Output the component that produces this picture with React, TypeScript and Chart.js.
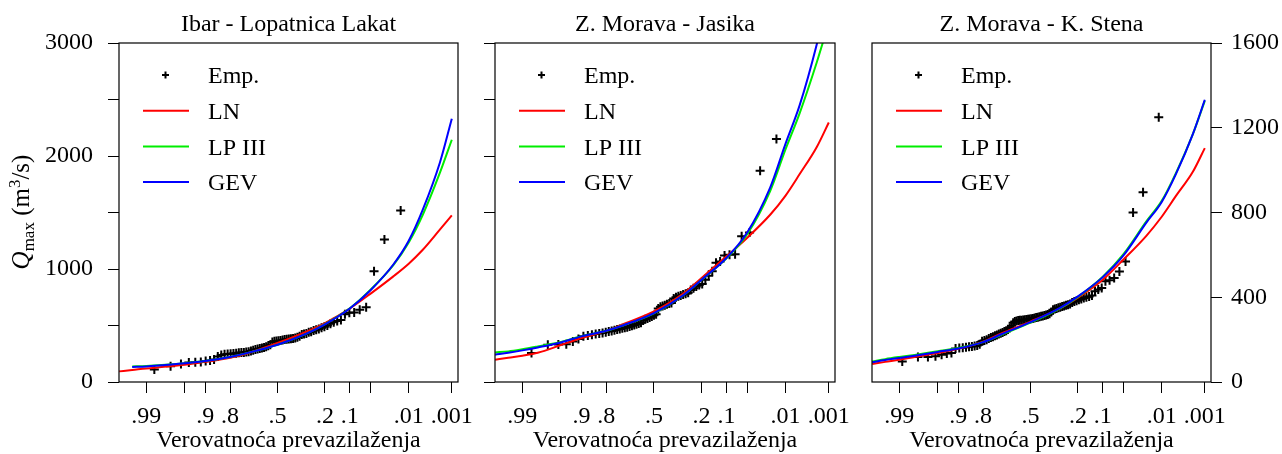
import React, { useEffect, useRef } from "react";
import { Chart, registerables } from "chart.js";

Chart.register(...registerables);

const FAM = "'Liberation Serif', 'Times New Roman', serif";
const FS = 24;

// ---------- axis definitions ----------
const xTickProbs = [0.99, 0.95, 0.9, 0.8, 0.5, 0.2, 0.1, 0.05, 0.01, 0.001];
const xTickLabels = [".99", "", ".9", ".8", ".5", ".2", ".1", "", ".01", ".001"];
const titles = ["Ibar - Lopatnica Lakat", "Z. Morava - Jasika", "Z. Morava - K. Stena"];
const legendLabels = ["Emp.", "LN", "LP III", "GEV"];

// exceedance probabilities at which the fitted curves are read
const curveProbs = [0.9975, 0.995, 0.99, 0.98, 0.95, 0.9, 0.8, 0.7, 0.5, 0.3, 0.2, 0.1, 0.05, 0.02, 0.01, 0.005, 0.002, 0.001];

// ---------- Ibar - Lopatnica Lakat ----------
const ibarEmpP = [
  0.9855, 0.9710, 0.9565, 0.9420, 0.9275, 0.9130, 0.8986, 0.8841, 0.8696, 0.8551,
  0.8406, 0.8261, 0.8116, 0.7971, 0.7826, 0.7681, 0.7536, 0.7391, 0.7246, 0.7101,
  0.6957, 0.6812, 0.6667, 0.6522, 0.6377, 0.6232, 0.6087, 0.5942, 0.5797, 0.5652,
  0.5507, 0.5362, 0.5217, 0.5072, 0.4928, 0.4783, 0.4638, 0.4493, 0.4348, 0.4203,
  0.4058, 0.3913, 0.3768, 0.3623, 0.3478, 0.3333, 0.3188, 0.3043, 0.2899, 0.2754,
  0.2609, 0.2464, 0.2319, 0.2174, 0.2029, 0.1884, 0.1739, 0.1594, 0.1449, 0.1304,
  0.1159, 0.1014, 0.0870, 0.0725, 0.0580, 0.0435, 0.0290, 0.0145,
];
const ibarEmpQ = [
  110, 140, 160, 172, 175, 178, 185, 190, 200, 225,
  240, 245, 248, 250, 252, 255, 258, 260, 262, 265,
  268, 275, 282, 288, 292, 296, 300, 305, 312, 320,
  330, 355, 360, 362, 365, 368, 372, 376, 378, 380,
  383, 386, 390, 395, 405, 420, 425, 430, 440, 445,
  455, 462, 470, 480, 490, 500, 515, 528, 540, 548,
  600, 612, 615, 640, 662, 980, 1260, 1518,
];
const ibarLN = [94, 106, 120, 132, 152, 178, 215, 255, 345, 448, 522, 650, 780, 935, 1047, 1170, 1348, 1474];
const ibarLP3 = [null, 138, 142, 150, 167, 186, 222, 258, 330, 430, 512, 652, 815, 1035, 1235, 1480, 1850, 2144];
const ibarGEV = [null, 133, 138, 148, 165, 185, 222, 258, 330, 430, 510, 650, 810, 1040, 1250, 1525, 1940, 2330];

// ---------- Z. Morava - Jasika ----------
const jasikaEmpP = [
  0.9848, 0.9697, 0.9545, 0.9394, 0.9242, 0.9091, 0.8939, 0.8788, 0.8636, 0.8485,
  0.8333, 0.8182, 0.8030, 0.7879, 0.7727, 0.7576, 0.7424, 0.7273, 0.7121, 0.6970,
  0.6818, 0.6667, 0.6515, 0.6364, 0.6212, 0.6061, 0.5909, 0.5758, 0.5606, 0.5455,
  0.5303, 0.5152, 0.5000, 0.4848, 0.4697, 0.4545, 0.4394, 0.4242, 0.4091, 0.3939,
  0.3788, 0.3636, 0.3485, 0.3333, 0.3182, 0.3030, 0.2879, 0.2727, 0.2576, 0.2424,
  0.2273, 0.2121, 0.1970, 0.1818, 0.1667, 0.1515, 0.1364, 0.1212, 0.1061, 0.0909,
  0.0758, 0.0606, 0.0455, 0.0303, 0.0152,
];
const jasikaEmpQ = [
  257, 330, 332, 335, 358, 380, 405, 412, 418, 424,
  430, 434, 440, 446, 452, 458, 464, 470, 475, 480,
  485, 492, 498, 505, 510, 518, 525, 545, 555, 562,
  570, 580, 590, 600, 650, 665, 672, 680, 688, 695,
  700, 740, 750, 758, 765, 775, 782, 790, 815, 830,
  845, 858, 868, 905, 940, 979, 1056, 1067, 1120, 1127,
  1130, 1289, 1324, 1870, 2150,
];
const jasikaLN = [197, 215, 233, 259, 327, 389, 452, 516, 625, 785, 920, 1112, 1275, 1480, 1650, 1840, 2080, 2297];
const jasikaLP3 = [262, 271, 290, 315, 355, 406, 454, 505, 608, 770, 905, 1095, 1305, 1690, 2060, 2380, 2830, 3180];
const jasikaGEV = [242, 259, 280, 306, 350, 404, 454, 505, 610, 770, 905, 1097, 1320, 1720, 2110, 2450, 2990, 3450];

// ---------- Z. Morava - K. Stena ----------
const stenaEmpP = [
  0.9885, 0.9770, 0.9655, 0.9540, 0.9425, 0.9310, 0.9195, 0.9080, 0.8966, 0.8851,
  0.8736, 0.8621, 0.8506, 0.8391, 0.8276, 0.8161, 0.8046, 0.7931, 0.7816, 0.7701,
  0.7586, 0.7471, 0.7356, 0.7241, 0.7126, 0.7011, 0.6897, 0.6782, 0.6667, 0.6552,
  0.6437, 0.6322, 0.6207, 0.6092, 0.5977, 0.5862, 0.5747, 0.5632, 0.5517, 0.5402,
  0.5287, 0.5172, 0.5057, 0.4943, 0.4828, 0.4713, 0.4598, 0.4483, 0.4368, 0.4253,
  0.4138, 0.4023, 0.3908, 0.3793, 0.3678, 0.3563, 0.3448, 0.3333, 0.3218, 0.3103,
  0.2989, 0.2874, 0.2759, 0.2644, 0.2529, 0.2414, 0.2299, 0.2184, 0.2069, 0.1954,
  0.1839, 0.1724, 0.1609, 0.1494, 0.1379, 0.1264, 0.1149, 0.1034, 0.0920, 0.0805,
  0.0690, 0.0575, 0.0460, 0.0345, 0.0230, 0.0115,
];
const stenaEmpQ = [
  97, 118, 118, 121, 129, 134, 137, 158, 160, 162,
  164, 166, 168, 170, 172, 178, 192, 196, 200, 205,
  210, 214, 218, 222, 226, 230, 234, 238, 242, 248,
  255, 265, 280, 286, 288, 290, 291, 292, 293, 294,
  295, 296, 297, 298, 300, 302, 304, 306, 308, 310,
  312, 314, 316, 318, 322, 330, 341, 344, 347, 350,
  353, 356, 359, 362, 365, 368, 375, 380, 384, 388,
  392, 396, 400, 404, 408, 428, 436, 444, 475, 480,
  491, 522, 569, 800, 895, 1249,
];
const stenaLN = [85, 95, 105, 118, 137, 157, 190, 228, 285, 348, 398, 483, 577, 690, 780, 877, 992, 1104];
const stenaLP3 = [97, 108, 118, 128, 145, 160, 188, 222, 280, 348, 402, 497, 602, 758, 855, 985, 1170, 1327];
const stenaGEV = [93, 104, 113, 124, 142, 158, 188, 224, 283, 350, 404, 495, 596, 752, 850, 980, 1170, 1332];

const leftTicksLabelled = [0, 1000, 2000, 3000];
const rightTicksLabelled = [0, 400, 800, 1200, 1600];

const LINE_COLORS = ["#ff0000", "#00ee00", "#0000ff"];

// inverse standard normal CDF (probability-paper axis transform)
function invNorm(p: number): number {
  const a = [-3.969683028665376e1, 2.209460984245205e2, -2.759285104469687e2, 1.38357751867269e2, -3.066479806614716e1, 2.506628277459239];
  const b = [-5.447609879822406e1, 1.615858368580409e2, -1.556989798598866e2, 6.680131188771972e1, -1.328068155288572e1];
  const c = [-7.784894002430293e-3, -3.223964580411365e-1, -2.400758277161838, -2.549732539343734, 4.374664141464968, 2.938163982698783];
  const d = [7.784695709041462e-3, 3.224671290700398e-1, 2.445134137142996, 3.754408661907416];
  const pl = 0.02425;
  if (p < pl) {
    const q = Math.sqrt(-2 * Math.log(p));
    return (((((c[0] * q + c[1]) * q + c[2]) * q + c[3]) * q + c[4]) * q + c[5]) / ((((d[0] * q + d[1]) * q + d[2]) * q + d[3]) * q + 1);
  }
  if (p <= 1 - pl) {
    const q = p - 0.5;
    const r = q * q;
    return ((((((a[0] * r + a[1]) * r + a[2]) * r + a[3]) * r + a[4]) * r + a[5]) * q) / (((((b[0] * r + b[1]) * r + b[2]) * r + b[3]) * r + b[4]) * r + 1);
  }
  const q = Math.sqrt(-2 * Math.log(1 - p));
  return -(((((c[0] * q + c[1]) * q + c[2]) * q + c[3]) * q + c[4]) * q + c[5]) / ((((d[0] * q + d[1]) * q + d[2]) * q + d[3]) * q + 1);
}
const zOf = (exceed: number) => invNorm(1 - exceed);

const X_MIN = -2.81;
const X_MAX = 3.2;

const decorPlugin = {
  id: "decor",
  afterDraw(chart: any) {
    const opts = chart.options.plugins.decor || {};
    const { ctx, chartArea } = chart;
    const { left, top, right, bottom } = chartArea;
    ctx.save();
    // box
    ctx.strokeStyle = "#000";
    ctx.lineWidth = 1.2;
    ctx.strokeRect(left, top, right - left, bottom - top);
    // legend
    ctx.font = `${FS}px ${FAM}`;
    ctx.textBaseline = "middle";
    ctx.textAlign = "left";
    ctx.fillStyle = "#000";
    legendLabels.forEach((lab, i) => {
      const y = top + 32 + i * 35.7;
      if (i === 0) {
        ctx.strokeStyle = "#000";
        ctx.lineWidth = 2;
        const cx = left + 46.5;
        ctx.beginPath();
        ctx.moveTo(cx - 3.5, y);
        ctx.lineTo(cx + 3.5, y);
        ctx.moveTo(cx, y - 3.5);
        ctx.lineTo(cx, y + 3.5);
        ctx.stroke();
      } else {
        ctx.strokeStyle = LINE_COLORS[i - 1];
        ctx.lineWidth = 2;
        ctx.beginPath();
        ctx.moveTo(left + 24, y);
        ctx.lineTo(left + 70, y);
        ctx.stroke();
      }
      ctx.fillText(lab, left + 89, y + 2);
    });
    // y axis title (left panel only)
    if (opts.yTitle) {
      ctx.translate(opts.yTitle.x, opts.yTitle.y);
      ctx.rotate(-Math.PI / 2);
      ctx.textBaseline = "alphabetic";
      const big = 25;
      const small = 17;
      const parts = [
        { t: "Q", f: `italic ${big}px ${FAM}`, dy: 0 },
        { t: "max", f: `${small}px ${FAM}`, dy: 5 },
        { t: " (m", f: `${big}px ${FAM}`, dy: 0 },
        { t: "3", f: `${small}px ${FAM}`, dy: -9 },
        { t: "/s)", f: `${big}px ${FAM}`, dy: 0 },
      ];
      let total = 0;
      const widths = parts.map((p) => {
        ctx.font = p.f;
        const w = ctx.measureText(p.t).width;
        total += w;
        return w;
      });
      let x = -total / 2;
      parts.forEach((p, i) => {
        ctx.font = p.f;
        ctx.fillText(p.t, x, p.dy);
        x += widths[i];
      });
    }
    ctx.restore();
  },
};

type PanelCfg = {
  title: string;
  empP: number[];
  empQ: number[];
  ln: (number | null)[];
  lp3: (number | null)[];
  gev: (number | null)[];
  width: number;
  padLeft: number;
  padRight: number;
  yPos: "left" | "right";
  yWidth: number;
  yMax: number;
  yStep: number;
  yLabels: number[];
  yPadding: number;
  yTitle?: { x: number; y: number };
};

function noPad(s: any) {
  s.paddingLeft = 0;
  s.paddingRight = 0;
  s.paddingTop = 0;
  s.paddingBottom = 0;
}

function buildConfig(p: PanelCfg): any {
  const curve = (vals: (number | null)[]) => curveProbs.map((pr, i) => ({ x: zOf(pr), y: vals[i] }));
  const lineDs = (label: string, vals: (number | null)[], color: string, order: number) => ({
    label,
    data: curve(vals),
    borderColor: color,
    backgroundColor: color,
    borderWidth: 2,
    pointRadius: 0,
    fill: false,
    cubicInterpolationMode: "monotone",
    order,
  });
  const font = { family: FAM, size: FS, lineHeight: 1 };
  return {
    type: "line",
    data: {
      datasets: [
        {
          label: "Emp.",
          data: p.empP.map((pr, i) => ({ x: zOf(pr), y: p.empQ[i] })),
          showLine: false,
          pointStyle: "cross",
          pointRadius: 4.5,
          pointBorderWidth: 2,
          borderColor: "#000",
          backgroundColor: "#000",
          order: 3,
        },
        lineDs("LN", p.ln, LINE_COLORS[0], 2),
        lineDs("LP III", p.lp3, LINE_COLORS[1], 1),
        lineDs("GEV", p.gev, LINE_COLORS[2], 0),
      ],
    },
    options: {
      animation: false,
      responsive: false,
      maintainAspectRatio: false,
      events: [],
      layout: { padding: { left: p.padLeft, right: p.padRight, top: 0, bottom: 0 } },
      plugins: {
        legend: { display: false },
        tooltip: { enabled: false },
        title: { display: false },
        decor: { yTitle: p.yTitle },
      },
      scales: {
        x: {
          type: "linear",
          position: "bottom",
          min: X_MIN,
          max: X_MAX,
          afterBuildTicks: (s: any) => {
            s.ticks = xTickProbs.map((pr) => ({ value: zOf(pr) }));
          },
          afterFit: (s: any) => {
            s.height = 72;
            noPad(s);
          },
          ticks: {
            autoSkip: false,
            maxRotation: 0,
            minRotation: 0,
            padding: 12,
            color: "#000",
            font,
            callback: (_v: any, i: number) => xTickLabels[i],
          },
          grid: { drawOnChartArea: false, drawTicks: true, tickLength: 11, color: "#000", lineWidth: 1 },
          border: { display: false },
          title: {
            display: true,
            text: "Verovatnoća prevazilaženja",
            color: "#000",
            font,
            padding: { top: 0, bottom: 1.5 },
          },
        },
        xTitle: {
          type: "linear",
          position: "top",
          min: X_MIN,
          max: X_MAX,
          afterFit: (s: any) => {
            s.height = 43;
            noPad(s);
          },
          grid: { display: false },
          border: { display: false },
          ticks: { display: false },
          title: { display: true, text: p.title, color: "#000", font, padding: { top: 13, bottom: 0 } },
        },
        y: {
          type: "linear",
          position: p.yPos,
          min: 0,
          max: p.yMax,
          afterFit: (s: any) => {
            s.width = p.yWidth;
            noPad(s);
          },
          ticks: {
            stepSize: p.yStep,
            autoSkip: false,
            padding: p.yPadding,
            color: "#000",
            font,
            callback: (v: number) => (p.yLabels.includes(v) ? String(v) : ""),
          },
          grid: { drawOnChartArea: false, drawTicks: true, tickLength: 11, color: "#000", lineWidth: 1 },
          border: { display: false },
        },
      },
    },
    plugins: [decorPlugin],
  };
}

const panels: { left: number; cfg: PanelCfg }[] = [
  {
    left: 0,
    cfg: {
      title: titles[0],
      empP: ibarEmpP,
      empQ: ibarEmpQ,
      ln: ibarLN,
      lp3: ibarLP3,
      gev: ibarGEV,
      width: 475,
      padLeft: 0,
      padRight: 17,
      yPos: "left",
      yWidth: 119,
      yMax: 3000,
      yStep: 500,
      yLabels: leftTicksLabelled,
      yPadding: 15,
      yTitle: { x: 29, y: 212 },
    },
  },
  {
    left: 475,
    cfg: {
      title: titles[1],
      empP: jasikaEmpP,
      empQ: jasikaEmpQ,
      ln: jasikaLN,
      lp3: jasikaLP3,
      gev: jasikaGEV,
      width: 375,
      padLeft: 0,
      padRight: 15,
      yPos: "left",
      yWidth: 20,
      yMax: 3000,
      yStep: 500,
      yLabels: [],
      yPadding: 15,
    },
  },
  {
    left: 850,
    cfg: {
      title: titles[2],
      empP: stenaEmpP,
      empQ: stenaEmpQ,
      ln: stenaLN,
      lp3: stenaLP3,
      gev: stenaGEV,
      width: 432,
      padLeft: 22,
      padRight: 0,
      yPos: "right",
      yWidth: 71,
      yMax: 1600,
      yStep: 400,
      yLabels: rightTicksLabelled,
      yPadding: 9,
    },
  },
];

function Panel({ left, cfg }: { left: number; cfg: PanelCfg }) {
  const ref = useRef<HTMLCanvasElement | null>(null);
  useEffect(() => {
    if (!ref.current) return;
    const chart = new Chart(ref.current, buildConfig(cfg));
    return () => chart.destroy();
  }, []);
  return (
    <canvas
      ref={ref}
      width={cfg.width}
      height={454}
      style={{ position: "absolute", left, top: 0, width: cfg.width, height: 454 }}
    />
  );
}

export default function App() {
  return (
    <div style={{ position: "absolute", left: 0, top: 0, width: 1282, height: 454, background: "#fff" }}>
      {panels.map((p, i) => (
        <Panel key={i} left={p.left} cfg={p.cfg} />
      ))}
    </div>
  );
}
